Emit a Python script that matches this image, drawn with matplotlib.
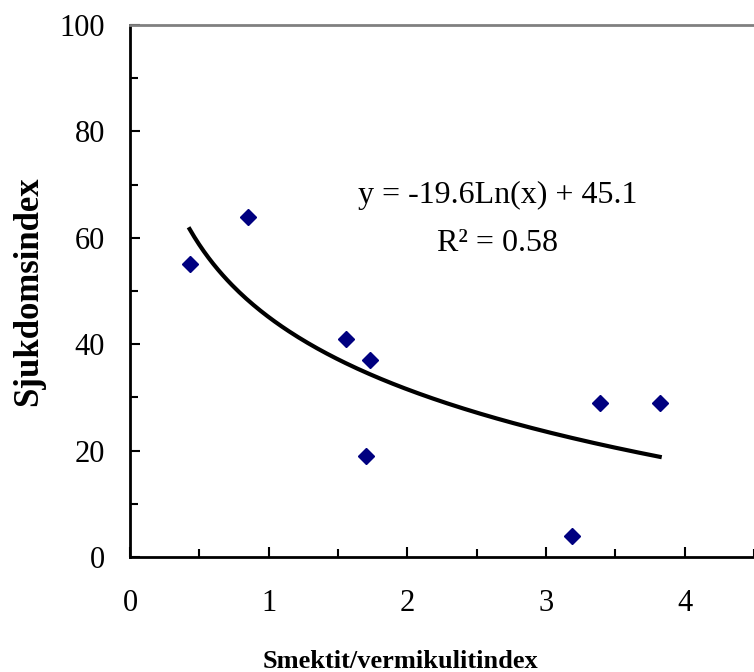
import matplotlib
matplotlib.use("Agg")
import matplotlib.pyplot as plt
import numpy as np
from matplotlib.ticker import MultipleLocator

# Data
smektit_index = [0.43, 0.85, 1.56, 1.73, 1.70, 3.19, 3.39, 3.82]
sjukdoms_index = [55, 64, 41, 37, 19, 4, 29, 29]

# Logarithmic trend line as printed on the chart
trend_a = -19.6
trend_b = 45.1
r_squared = 0.58

plt.rcParams['font.family'] = ['Liberation Serif', 'DejaVu Serif']

fig = plt.figure(figsize=(7.54, 6.72), dpi=100)
ax = fig.add_axes([130 / 754, 1 - 557 / 672, 624 / 754, 532 / 672])

ax.plot(smektit_index, sjukdoms_index, linestyle='none', marker='D',
        markersize=8, color='#000080', zorder=3)

# Trend line across the data range
xs = np.linspace(min(smektit_index), max(smektit_index), 200)
ax.plot(xs, trend_a * np.log(xs) + trend_b, color='black', linewidth=3)

ax.text(2.65, 67.9, f"y = {trend_a}Ln(x) + {trend_b}", ha='center', va='center', fontsize=23)
ax.text(2.65, 59.0, f"R² = {r_squared}", ha='center', va='center', fontsize=23)

ax.set_xlim(0, 4.5)
ax.set_ylim(0, 100)
ax.set_xticks([0, 1, 2, 3, 4])
ax.set_yticks([0, 20, 40, 60, 80, 100])
ax.xaxis.set_minor_locator(MultipleLocator(0.5))
ax.yaxis.set_minor_locator(MultipleLocator(10))
ax.tick_params(axis='both', which='both', direction='in', width=1.5, labelsize=22)
ax.tick_params(axis='both', which='major', length=7)
ax.tick_params(axis='both', which='minor', length=6)
ax.tick_params(axis='x', which='both', pad=23)
ax.tick_params(axis='y', which='both', pad=18)

ax.spines['right'].set_visible(False)
ax.spines['top'].set_color('#808080')
ax.spines['top'].set_linewidth(2)
ax.spines['left'].set_linewidth(2)
ax.spines['bottom'].set_linewidth(2)

ax.set_xlabel("Smektit/vermikulitindex", fontsize=19, fontweight='bold')
ax.set_ylabel("Sjukdomsindex", fontsize=25, fontweight='bold')
ax.xaxis.set_label_coords(0.433, -0.196)
ax.yaxis.set_label_coords(-0.163, 0.5)
ax.xaxis.label.set_va('center')
ax.yaxis.label.set_va('center')

fig.savefig("out.png", dpi=100)
